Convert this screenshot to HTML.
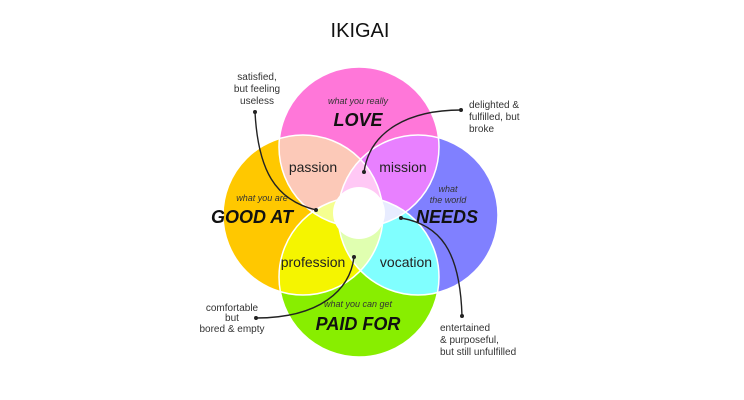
<!DOCTYPE html>
<html><head><meta charset="utf-8"><style>
html,body{margin:0;padding:0;background:#fff;width:744px;height:400px;overflow:hidden}
svg text{font-family:"Liberation Sans Narrow","Liberation Sans",sans-serif}
.a{font-family:"Liberation Sans",sans-serif;font-size:10px;fill:#333}
.s{font-size:9px;font-style:italic;fill:#333}
.b{font-size:18px;font-weight:bold;font-style:italic;fill:#111}
.m{font-size:14px;fill:#222}
</style></head><body>
<svg width="744" height="400" viewBox="0 0 744 400">
<defs>
<clipPath id="P"><circle cx="359" cy="147" r="80"/></clipPath>
<clipPath id="Y"><circle cx="303" cy="215" r="80"/></clipPath>
<clipPath id="B"><circle cx="418" cy="215" r="80"/></clipPath>
<clipPath id="G"><circle cx="359" cy="277" r="80"/></clipPath>
</defs>
<text x="360" y="37" text-anchor="middle" style="font-family:'Liberation Sans',sans-serif;font-size:20px;fill:#111">IKIGAI</text>
<circle cx="303" cy="215" r="80" fill="#ffc800"/>
<circle cx="418" cy="215" r="80" fill="#8080ff"/>
<circle cx="359" cy="147" r="80" fill="#ff77d9"/>
<circle cx="359" cy="277" r="80" fill="#88ee00"/>
<g clip-path="url(#P)"><circle cx="303" cy="215" r="80" fill="#fcc9b8"/><circle cx="418" cy="215" r="80" fill="#e880ff"/></g>
<g clip-path="url(#G)"><circle cx="303" cy="215" r="80" fill="#f5f500"/><circle cx="418" cy="215" r="80" fill="#80ffff"/></g>
<g clip-path="url(#P)"><g clip-path="url(#B)"><circle cx="303" cy="215" r="80" fill="#ffc8f5"/></g></g>
<g clip-path="url(#P)"><g clip-path="url(#Y)"><circle cx="359" cy="277" r="80" fill="#f5ff90"/></g></g>
<g clip-path="url(#G)"><g clip-path="url(#B)"><circle cx="359" cy="147" r="80" fill="#e8ecff"/></g></g>
<g clip-path="url(#G)"><g clip-path="url(#Y)"><circle cx="418" cy="215" r="80" fill="#e0ffb0"/></g></g>
<g fill="none" stroke="#fff" stroke-width="1.5">
<circle cx="303" cy="215" r="80"/><circle cx="418" cy="215" r="80"/><circle cx="359" cy="147" r="80"/><circle cx="359" cy="277" r="80"/>
</g>
<circle cx="359" cy="213" r="26" fill="#fff"/>
<text class="s" x="358" y="104" text-anchor="middle">what you really</text>
<text class="b" x="358" y="126" text-anchor="middle">LOVE</text>
<text class="m" x="313" y="172" text-anchor="middle">passion</text>
<text class="m" x="403" y="172" text-anchor="middle">mission</text>
<text class="s" x="262" y="201" text-anchor="middle">what you are</text>
<text class="b" x="252" y="223" text-anchor="middle">GOOD AT</text>
<text class="s" x="448" y="192" text-anchor="middle">what</text>
<text class="s" x="448" y="203" text-anchor="middle">the world</text>
<text class="b" x="447" y="223" text-anchor="middle">NEEDS</text>
<text class="m" x="313" y="267" text-anchor="middle">profession</text>
<text class="m" x="406" y="267" text-anchor="middle">vocation</text>
<text class="s" x="358" y="307" text-anchor="middle">what you can get</text>
<text class="b" x="358" y="330" text-anchor="middle">PAID FOR</text>
<g fill="none" stroke="#222" stroke-width="1.4">
<path d="M255 112 C258 170 275 200 316 210"/>
<path d="M461 110 C410 110 370 130 364 172"/>
<path d="M256 318 C320 318 350 290 354 257"/>
<path d="M401 218 C440 225 460 250 462 316"/>
</g>
<g fill="#222"><circle cx="255" cy="112" r="2"/><circle cx="316" cy="210" r="2"/><circle cx="461" cy="110" r="2"/><circle cx="364" cy="172" r="2"/><circle cx="256" cy="318" r="2"/><circle cx="354" cy="257" r="2"/><circle cx="462" cy="316" r="2"/><circle cx="401" cy="218" r="2"/></g>
<g class="a" text-anchor="middle"><text x="257" y="80">satisfied,</text><text x="257" y="92">but feeling</text><text x="257" y="104">useless</text>
<text x="232" y="311">comfortable</text><text x="232" y="321">but</text><text x="232" y="332">bored &amp; empty</text></g>
<g class="a"><text x="469" y="108">delighted &amp;</text><text x="469" y="120">fulfilled, but</text><text x="469" y="132">broke</text>
<text x="440" y="331">entertained</text><text x="440" y="343">&amp; purposeful,</text><text x="440" y="355">but still unfulfilled</text></g>
</svg>
</body></html>
